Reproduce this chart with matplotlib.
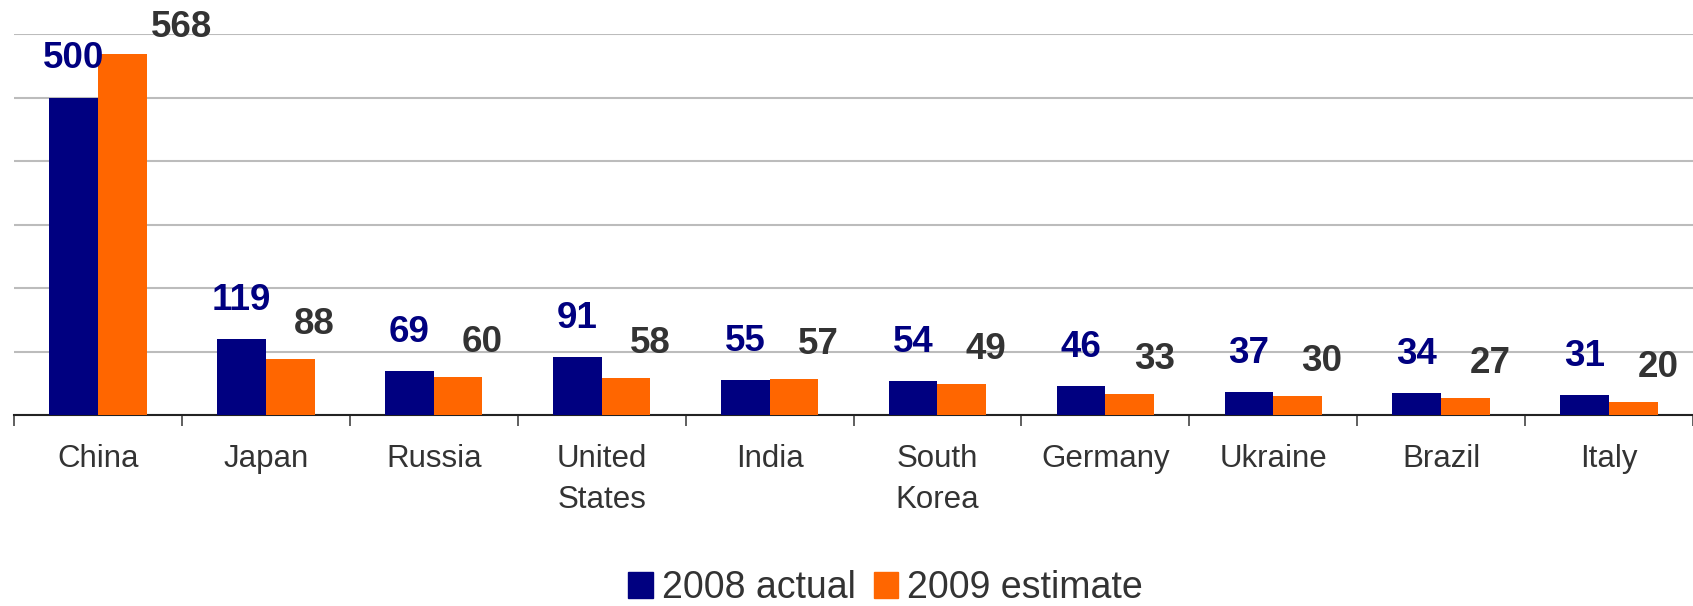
import matplotlib
matplotlib.use("Agg")
import matplotlib.pyplot as plt
from matplotlib.patches import Patch
import numpy as np

categories = ["China", "Japan", "Russia", "United\nStates", "India", "South\nKorea",
              "Germany", "Ukraine", "Brazil", "Italy"]
actual_2008 = [500, 119, 69, 91, 55, 54, 46, 37, 34, 31]
estimate_2009 = [568, 88, 60, 58, 57, 49, 33, 30, 27, 20]
series_names = ["2008 actual", "2009 estimate"]

NAVY = "#000080"
ORANGE = "#FF6600"
GRAY = "#333333"

plt.rcParams['font.family'] = ['Liberation Sans', 'DejaVu Sans']

W, H, DPI = 1693, 606, 100
fig = plt.figure(figsize=(W / DPI, H / DPI), dpi=DPI)
ax_left = 14 / W
ax_bottom = 1 - 415 / H
ax_top = 1 - 34 / H
ax = fig.add_axes([ax_left, ax_bottom, 1.0 - ax_left, ax_top - ax_bottom])

x = np.arange(len(categories))
bw = 0.29
ax.bar(x - bw / 2, actual_2008, bw, color=NAVY, zorder=3)
ax.bar(x + bw / 2, estimate_2009, bw, color=ORANGE, zorder=3)

ax.set_xlim(-0.5, len(categories) - 0.5)
ax.set_ylim(0, 600)
ax.set_yticks(np.arange(0, 601, 100))
ax.yaxis.grid(True, color="#bcbcbc", linewidth=1.5, zorder=0)
ax.tick_params(axis='y', left=False, labelleft=False)
for s in ["left", "right", "top"]:
    ax.spines[s].set_visible(False)
ax.spines["bottom"].set_color("#222222")
ax.spines["bottom"].set_linewidth(1.5)

# category ticks at slot boundaries
ax.set_xticks(np.arange(-0.5, len(categories), 1.0))
ax.set_xticklabels([])
ax.tick_params(axis='x', which='major', length=8, width=1.2, color="#444444", direction='out')
ax.set_xticks(x, minor=True)
ax.set_xticklabels(categories, minor=True, fontsize=22.5, color=GRAY, linespacing=1.45)
ax.tick_params(axis='x', which='minor', length=0, pad=21)

px = 72 / DPI  # points per pixel
for xi, v in zip(x, actual_2008):
    ax.annotate(str(v), (xi - bw / 2, v), xytext=(0, 29 * px), textcoords='offset points',
                ha='center', va='baseline', fontsize=26.5, fontweight='bold', color=NAVY,
                annotation_clip=False)
for xi, v in zip(x, estimate_2009):
    y = v
    dx, dy = 4, 25
    if v > 540:  # keep label inside the figure
        y, dx, dy = 595, 29, 0
    ax.annotate(str(v), (xi + bw / 2, y), xytext=(dx * px, dy * px), textcoords='offset points',
                ha='left', va='baseline', fontsize=26.5, fontweight='bold', color=GRAY,
                annotation_clip=False)

handles = [Patch(color=NAVY), Patch(color=ORANGE)]
leg = fig.legend(handles, series_names, loc='lower center', bbox_to_anchor=(0.523, 0.0),
                 ncol=2, frameon=False, fontsize=27, handlelength=0.65, handleheight=0.67,
                 handletextpad=0.24, columnspacing=0.48, labelcolor=GRAY,
                 borderpad=0, borderaxespad=0)

fig.savefig("out.png", dpi=DPI)
